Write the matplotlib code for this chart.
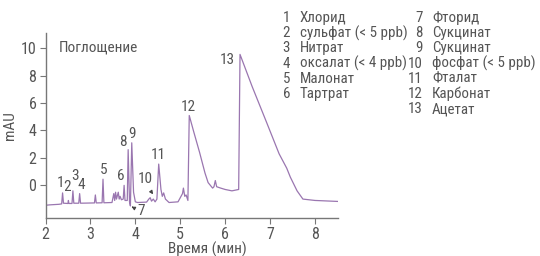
import matplotlib
matplotlib.use("Agg")
import matplotlib.pyplot as plt
from matplotlib import font_manager

names = {f.name for f in font_manager.fontManager.ttflist}
fam = "Roboto"
for cand in ["Roboto Condensed", "Liberation Sans Narrow", "Arial Narrow", "PT Sans Narrow",
             "Archivo Narrow", "Fira Sans Condensed", "Open Sans Condensed", "Asap Condensed"]:
    if cand in names:
        fam = cand
        break
plt.rcParams['font.family'] = [fam, 'DejaVu Sans']

# chromatogram trace (time in min, signal in mAU)
time = [2.00, 2.10, 2.30, 2.36, 2.38, 2.40, 2.50, 2.51, 2.52, 2.59, 2.61, 2.63,
        2.74, 2.76, 2.78, 3.09, 3.11, 3.13, 3.26, 3.28, 3.30, 3.48, 3.52, 3.54,
        3.56, 3.58, 3.62, 3.64, 3.66, 3.69, 3.73, 3.75, 3.77, 3.82, 3.84, 3.87,
        3.89, 3.92, 3.96, 4.00, 4.05, 4.25, 4.30, 4.33, 4.36, 4.40, 4.44, 4.48,
        4.52, 4.57, 4.60, 4.63, 4.67, 4.75, 4.95, 5.00, 5.05, 5.07, 5.10, 5.13,
        5.17, 5.20, 5.30, 5.43, 5.55, 5.62, 5.67, 5.72, 5.75, 5.78, 5.81, 5.90,
        6.00, 6.15, 6.30, 6.33, 6.60, 6.92, 7.20, 7.37, 7.45, 7.60, 7.73, 8.00,
        8.50]
signal = [-1.45, -1.42, -1.38, -1.35, -0.55, -1.30, -1.32, -1.10, -1.32, -1.32, -0.40, -1.30,
          -1.30, -0.60, -1.30, -1.28, -0.70, -1.28, -1.27, 0.45, -1.27, -1.25, -0.60, -1.10,
          -0.50, -1.00, -0.50, -1.00, -0.80, -1.05, -1.00, 0.00, -1.10, -1.10, 2.60, -1.20,
          -1.50, 3.10, -0.50, -1.20, -1.25, -1.22, -1.00, -0.90, -1.15, -1.00, -1.20, -1.00,
          1.55, -0.30, -0.80, -0.55, -1.00, -1.25, -1.20, -0.90, -0.60, -0.20, -0.80, -0.70,
          -1.10, 5.09, 3.90, 2.40, 0.90, 0.20, 0.00, -0.20, -0.10, 0.35, -0.10, -0.20,
          -0.30, -0.40, -0.30, 9.54, 7.20, 4.60, 2.30, 1.25, 0.60, -0.40, -1.00, -1.10,
          -1.17]

peak_ids = ["1", "2", "3", "4", "5", "6", "8", "9", "10", "11", "12", "13"]
peak_lab_t = [2.34, 2.49, 2.66, 2.80, 3.30, 3.67, 3.72, 3.93, 4.23, 4.52, 5.19, 6.04]
peak_lab_y = [0.2, -0.15, 0.66, 0.0, 1.15, 0.7, 3.14, 3.77, 0.47, 2.19, 5.72, 9.1]

legend_nums = ["1", "2", "3", "4", "5", "6", "7", "8", "9", "10", "11", "12", "13"]
legend_names = ["Хлорид", "сульфат (< 5 ppb)", "Нитрат", "оксалат (< 4 ppb)", "Малонат",
                "Тартрат", "Фторид", "Сукцинат", "Сукцинат", "фосфат (< 5 ppb)",
                "Фталат", "Карбонат", "Ацетат"]

yticks = [0, 2, 4, 6, 8, 10]
xticks = [2, 3, 4, 5, 6, 7, 8]

TXT = "#555555"
LINE = "#9a76b0"
AX = "#777777"

fig = plt.figure(figsize=(5.4, 2.56), dpi=100)
ax = fig.add_axes([45.5/540, 1-218.3/256, (337.5-45.5)/540, (218.3-33)/256])
ax.plot(time, signal, color=LINE, lw=0.9)
ax.set_xlim(2, 8.5)
ax.set_ylim(-2.4, 11.1)
ax.set_xticks(xticks)
ax.set_yticks(yticks)
for s in ["top", "right"]:
    ax.spines[s].set_visible(False)
for s in ["left", "bottom"]:
    ax.spines[s].set_color(AX)
    ax.spines[s].set_linewidth(1.0)
ax.tick_params(colors=AX, labelcolor=TXT, labelsize=11.5, length=4, width=0.8, pad=2.5)
ax.set_ylabel("mAU", color=TXT, fontsize=11, labelpad=3)
ax.text(5.6, -4.65, "Время (мин)", color=TXT, fontsize=11, ha="center", va="center",
        clip_on=False)
ax.text(2.3, 10.05, "Поглощение", color=TXT, fontsize=11, ha="left", va="center")

for lab, tx, ty in zip(peak_ids, peak_lab_t, peak_lab_y):
    ax.text(tx, ty, lab, color=TXT, fontsize=11, ha="center", va="center")

ax.text(4.12, -1.85, "7", color=TXT, fontsize=11, ha="center", va="center", clip_on=False)
ax.annotate("", xy=(3.86, -1.45), xytext=(4.0, -1.7),
            arrowprops=dict(arrowstyle="-|>", color="#444444", lw=0.8,
                            mutation_scale=5))
ax.annotate("", xy=(4.43, -0.82), xytext=(4.33, -0.35),
            arrowprops=dict(arrowstyle="-|>", color="#444444", lw=0.8,
                            mutation_scale=5))

# legend as text block
row_y = [18, 33.2, 48.4, 63.6, 78.8, 94, 109.2]
for i, (n, nm) in enumerate(zip(legend_nums, legend_names)):
    if i < 6:
        x_num, x_name, y = 290, 300, row_y[i]
    else:
        x_num, x_name, y = 423, 432, row_y[i - 6]
    fig.text(x_num/540, 1-y/256, n, color=TXT, fontsize=10.8, ha="right", va="center")
    fig.text(x_name/540, 1-y/256, nm, color=TXT, fontsize=10.8, ha="left", va="center")

fig.savefig("out.png", dpi=100)
